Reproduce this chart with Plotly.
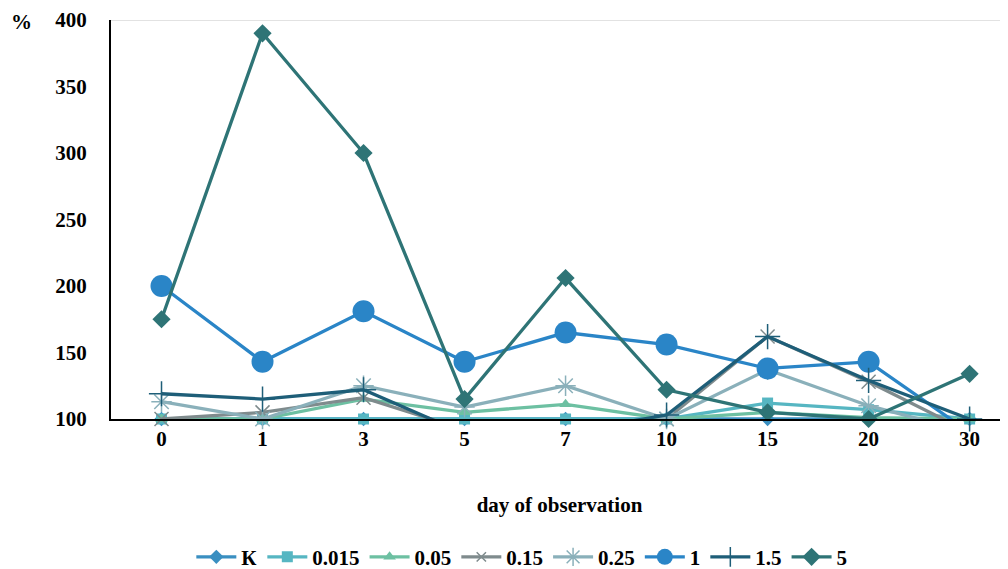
import plotly.graph_objects as go

days = ["0", "1", "3", "5", "7", "10", "15", "20", "30"]

s_K = [100, 100, 100, 100, 100, 100, 100, 100, 100]
s_0015 = [100, 100, 100, 100, 100, 100, 112, 107, 100]
s_005 = [100, 100, 115, 105, 111, 100, 105, 101, 100]
s_015 = [100, 105, 116, 92, 90, 100, 162, 128, 90]
s_025 = [113, 100, 125, 109, 125, 100, 137, 110, 90]
s_1 = [200, 143, 181, 143, 165, 156, 138, 143, 90]
s_15 = [119, 115, 122, 89, 90, 103, 162, 129, 100]
s_5 = [175, 390, 300, 115, 206, 122, 105, 100, 134]

series = [
    ("К", s_K, "#3A8FC1", "diamond", 11, 0),
    ("0.015", s_0015, "#56B6C2", "square", 11, 0),
    ("0.05", s_005, "#6DC0A2", "triangle-up", 11, 0),
    ("0.15", s_015, "#7F8B8D", "x-thin", 14, 1.5),
    ("0.25", s_025, "#8AB0BA", "asterisk", 17, 1.5),
    ("1", s_1, "#2A85C7", "circle", 22, 0),
    ("1.5", s_15, "#1E5E78", "cross-thin", 18, 1.5),
    ("5", s_5, "#2E7476", "diamond", 14, 0),
]

YMIN, YMAX = 100, 400
font_serif = "Liberation Serif"
FS = 21

fig = go.Figure()
x_idx = list(range(len(days)))
for name, vals, color, sym, size, lw in series:
    sizes = [size if v >= YMIN else 0 for v in vals]
    marker = dict(symbol=sym, size=sizes, color=color, opacity=1,
                  line=dict(color=color, width=lw))
    fig.add_trace(go.Scatter(
        x=x_idx, y=vals, name=name, mode="lines+markers",
        line=dict(color=color, width=3.3),
        marker=marker, cliponaxis=False, opacity=1,
    ))

fig.add_shape(type="line", xref="paper", yref="y", x0=0, x1=1, y0=YMAX, y1=YMAX,
              line=dict(color="#D9D9D9", width=1.5), layer="below")

fig.update_layout(
    width=1000, height=561,
    margin=dict(l=103, r=0, t=12, b=150, autoexpand=False),
    paper_bgcolor="white", plot_bgcolor="white",
    font=dict(family=font_serif, size=FS, color="black"),
    xaxis=dict(
        tickmode="array", tickvals=x_idx, ticktext=days,
        range=[-0.5, 8.38], showgrid=False, zeroline=False,
        showline=True, linecolor="black", linewidth=2,
        tickfont=dict(family=font_serif, size=FS, color="black", weight="bold"),
        title=dict(text="<b>day of observation</b>", font=dict(size=FS), standoff=47),
        ticks="", automargin=False,
    ),
    yaxis=dict(
        range=[YMIN, YMAX], tickvals=[100, 150, 200, 250, 300, 350, 400],
        showgrid=False, zeroline=False,
        showline=True, linecolor="black", linewidth=2,
        tickfont=dict(family=font_serif, size=FS, color="black", weight="bold"),
        ticks="", automargin=False, ticklabelstandoff=18,
    ),
    legend=dict(orientation="h", x=0.458, xanchor="center", y=0.021, yanchor="middle",
                yref="container",
                font=dict(family=font_serif, size=FS, color="black", weight="bold"),
                itemwidth=40, tracegroupgap=0),
    showlegend=True,
)

fig.add_annotation(text="<b>%</b>", xref="paper", yref="paper", x=-0.1, y=1.03,
                   xanchor="center", yanchor="top", showarrow=False,
                   font=dict(family=font_serif, size=FS, color="black"))

fig.write_html("out.html")
